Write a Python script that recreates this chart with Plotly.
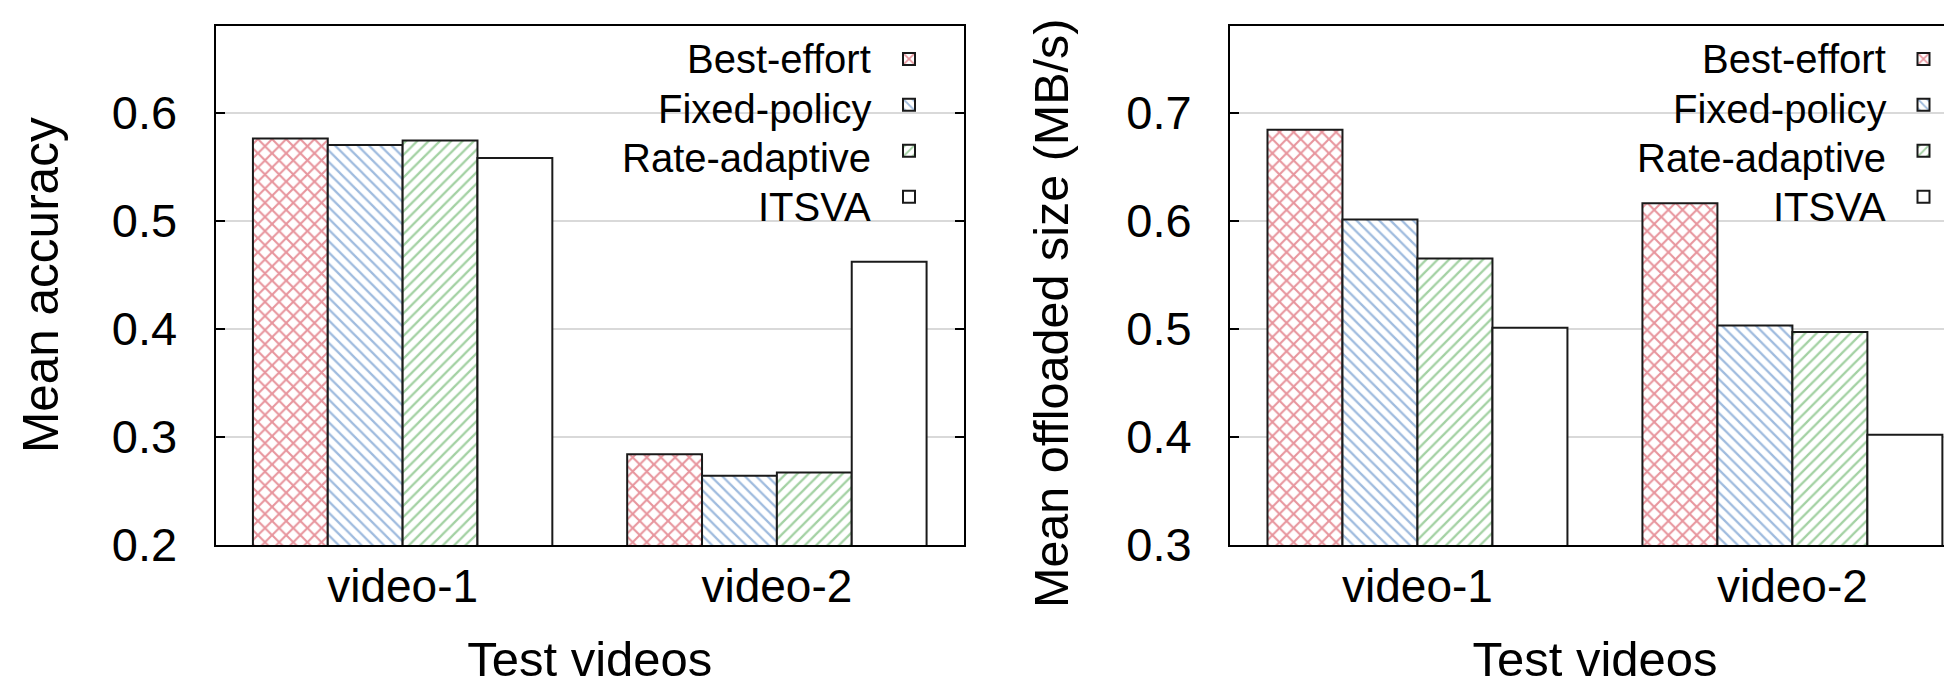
import plotly.graph_objects as go

# ---------------- data ----------------
videos = ["video-1", "video-2"]
methods = ["Best-effort", "Fixed-policy", "Rate-adaptive", "ITSVA"]
accuracy_best = [0.576, 0.284]
accuracy_fixed = [0.570, 0.264]
accuracy_rate = [0.574, 0.267]
accuracy_itsva = [0.558, 0.462]
size_best = [0.684, 0.616]
size_fixed = [0.601, 0.503]
size_rate = [0.565, 0.497]
size_itsva = [0.501, 0.402]
acc_ticks = [0.2, 0.3, 0.4, 0.5, 0.6]
size_ticks = [0.3, 0.4, 0.5, 0.6, 0.7]

# ---------------- style ----------------
W, H = 1952, 686
ML, MR, MT, MB = 0, 0, 18, 149
PH = H - MT - MB
FONT = "Liberation Sans, Arial, Helvetica, sans-serif"
RED, BLUE, GREEN = "#d02c3c", "#3f78bd", "#47a347"
styles = [
    dict(color=RED, pattern=dict(shape="x", fgcolor=RED, bgcolor="white", size=10, solidity=0.38)),
    dict(color=BLUE, pattern=dict(shape="\\", fgcolor=BLUE, bgcolor="white", size=8, solidity=0.28)),
    dict(color=GREEN, pattern=dict(shape="/", fgcolor=GREEN, bgcolor="white", size=8, solidity=0.28)),
    dict(color="white"),
]


def px_x(p):
    return p / W


def px_y(p):
    return (H - MB - p) / PH


fig = go.Figure()
left_series = [accuracy_best, accuracy_fixed, accuracy_rate, accuracy_itsva]
right_series = [size_best, size_fixed, size_rate, size_itsva]
for i, name in enumerate(methods):
    fig.add_trace(go.Bar(
        x=videos, y=left_series[i], name="", xaxis="x", yaxis="y",
        marker=dict(line=dict(color="#1a1a1a", width=2), **styles[i]),
        legend="legend", showlegend=True, hovertext=name,
    ))
for i, name in enumerate(methods):
    fig.add_trace(go.Bar(
        x=videos, y=right_series[i], name="", xaxis="x2", yaxis="y2",
        marker=dict(line=dict(color="#1a1a1a", width=2), **styles[i]),
        legend="legend2", showlegend=True, hovertext=name,
    ))

axis_common = dict(showline=True, linecolor="black", linewidth=2)
yaxis_common = dict(
    **axis_common, ticks="inside", ticklen=9, tickwidth=2, tickcolor="black",
    showgrid=True, gridcolor="#d9d9d9", gridwidth=1.5, zeroline=False,
    tickfont=dict(family=FONT, size=47, color="black"), tickformat=".1f",
    ticklabelstandoff=27,
)
xaxis_common = dict(
    **axis_common, mirror=True, ticks="", showgrid=False, zeroline=False,
    tickfont=dict(family=FONT, size=46, color="black"), ticklabelstandoff=0,
    title=dict(text="Test videos", font=dict(family=FONT, size=49, color="black"), standoff=30),
)

legend_common = dict(xanchor="left", y=px_y(23), yanchor="top",
                     bgcolor="rgba(0,0,0,0)", borderwidth=0,
                     font=dict(family=FONT, size=33), itemclick=False)

fig.update_layout(
    width=W, height=H,
    margin=dict(l=ML, r=MR, t=MT, b=MB),
    paper_bgcolor="white", plot_bgcolor="white",
    barmode="group", bargap=0.2, bargroupgap=0,
    font=dict(family=FONT, color="black"),
    xaxis=dict(domain=[px_x(207.5), px_x(956)], range=[-0.5, 1.5], anchor="y", **xaxis_common),
    yaxis=dict(domain=[0, 1], range=[0.2, 0.68], tickvals=acc_ticks, mirror="ticks", anchor="x", **yaxis_common),
    xaxis2=dict(domain=[px_x(1222), 1.0], range=[-0.5, 1.447], anchor="y2", **xaxis_common),
    yaxis2=dict(domain=[0, 1], range=[0.3, 0.78], tickvals=size_ticks, mirror=False, anchor="x2", **yaxis_common),
    legend=dict(x=px_x(881), **legend_common),
    legend2=dict(x=px_x(1895.5), **legend_common),
    showlegend=True,
)

# opaque key area (hides grid lines behind the key, like the original)
for x0, x1 in [(544, 956), (1560, 1952)]:
    fig.add_shape(type="rect", xref="paper", yref="paper", layer="between",
                  x0=px_x(x0), x1=px_x(x1), y0=px_y(232), y1=px_y(18),
                  fillcolor="white", line=dict(width=0))

# key labels, right-aligned to the left of the key boxes
row_centers = [51, 100.5, 149.5, 199]
for text_right in [865, 1880]:
    for name, yc in zip(methods, row_centers):
        fig.add_annotation(text=name, xref="paper", yref="paper",
                           x=px_x(text_right), y=px_y(yc), xanchor="right", yanchor="middle",
                           showarrow=False, font=dict(family=FONT, size=40, color="black"))

# y-axis titles
fig.add_annotation(text="Mean accuracy", xref="paper", yref="paper",
                   x=px_x(32), y=px_y(277), xanchor="center", yanchor="middle",
                   textangle=-90, showarrow=False, font=dict(family=FONT, size=49.5, color="black"))
fig.add_annotation(text="Mean offloaded size (MB/s)", xref="paper", yref="paper",
                   x=px_x(1043), y=px_y(306), xanchor="center", yanchor="middle",
                   textangle=-90, showarrow=False, font=dict(family=FONT, size=48.5, color="black"))

fig.write_html("out.html")
